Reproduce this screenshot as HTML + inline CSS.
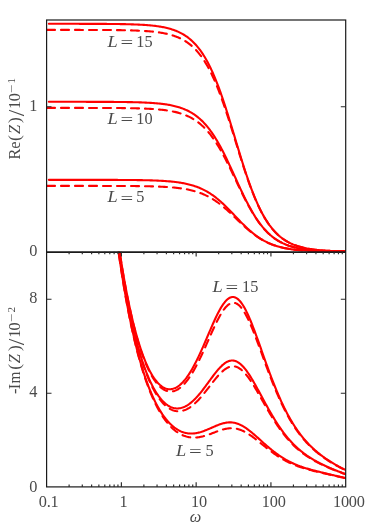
<!DOCTYPE html>
<html><head><meta charset="utf-8"><title>plot</title>
<style>
html,body{margin:0;padding:0;background:#fff;}
body{width:374px;height:529px;position:relative;overflow:hidden;font-family:"Liberation Serif",serif;}
svg{position:absolute;left:0;top:0;will-change:transform;}
.c path{fill:none;stroke:#ff0000;stroke-width:2.1;stroke-linejoin:round;stroke-linecap:round;}
.c path.d{stroke-dasharray:8 6;}
.f{fill:none;stroke:#1a1a1a;stroke-width:1.2;}
.f .k{stroke-width:1.15;stroke:#2a2a2a;}
.t text{font-family:"Liberation Serif",serif;font-size:16.3px;fill:#4a4a4a;}
.t .i{font-style:italic;}
.t .s{font-size:11px;}
.t .p{font-size:17.4px;}
.t .sl{font-size:23.5px;}
.t .n{letter-spacing:0.15px;}
.t .x{letter-spacing:-0.25px;}
</style></head><body>
<svg width="374" height="529" viewBox="0 0 374 529">
<defs>
<clipPath id="cu"><rect x="46.6" y="20.0" width="299.10" height="231.80"/></clipPath>
<clipPath id="cl"><rect x="46.6" y="251.8" width="299.10" height="235.10"/></clipPath>
</defs>
<g clip-path="url(#cu)" class="c">
<path d="M48.85 23.80 L49.84 23.80 L50.84 23.80 L51.83 23.81 L52.82 23.81 L53.81 23.81 L54.81 23.81 L55.80 23.81 L56.79 23.81 L57.79 23.81 L58.78 23.81 L59.77 23.81 L60.76 23.81 L61.76 23.81 L62.75 23.81 L63.74 23.81 L64.73 23.81 L65.73 23.81 L66.72 23.81 L67.71 23.81 L68.71 23.81 L69.70 23.81 L70.69 23.82 L71.68 23.82 L72.68 23.82 L73.67 23.82 L74.66 23.82 L75.66 23.82 L76.65 23.82 L77.64 23.82 L78.63 23.82 L79.63 23.83 L80.62 23.83 L81.61 23.83 L82.61 23.83 L83.60 23.83 L84.59 23.83 L85.58 23.84 L86.58 23.84 L87.57 23.84 L88.56 23.84 L89.56 23.85 L90.55 23.85 L91.54 23.85 L92.53 23.85 L93.53 23.86 L94.52 23.86 L95.51 23.87 L96.50 23.87 L97.50 23.87 L98.49 23.88 L99.48 23.88 L100.48 23.89 L101.47 23.89 L102.46 23.90 L103.45 23.90 L104.45 23.91 L105.44 23.92 L106.43 23.92 L107.43 23.93 L108.42 23.94 L109.41 23.95 L110.40 23.96 L111.40 23.97 L112.39 23.98 L113.38 23.99 L114.38 24.00 L115.37 24.01 L116.36 24.02 L117.35 24.03 L118.35 24.05 L119.34 24.06 L120.33 24.08 L121.33 24.10 L122.32 24.11 L123.31 24.13 L124.30 24.15 L125.30 24.17 L126.29 24.20 L127.28 24.22 L128.27 24.24 L129.27 24.27 L130.26 24.30 L131.25 24.33 L132.25 24.36 L133.24 24.39 L134.23 24.43 L135.22 24.47 L136.22 24.51 L137.21 24.55 L138.20 24.59 L139.20 24.64 L140.19 24.69 L141.18 24.74 L142.17 24.80 L143.17 24.86 L144.16 24.92 L145.15 24.99 L146.15 25.06 L147.14 25.13 L148.13 25.21 L149.12 25.30 L150.12 25.39 L151.11 25.48 L152.10 25.58 L153.09 25.68 L154.09 25.80 L155.08 25.91 L156.07 26.04 L157.07 26.17 L158.06 26.31 L159.05 26.46 L160.04 26.62 L161.04 26.78 L162.03 26.96 L163.02 27.15 L164.02 27.34 L165.01 27.55 L166.00 27.77 L166.99 28.01 L167.99 28.25 L168.98 28.51 L169.97 28.79 L170.97 29.08 L171.96 29.39 L172.95 29.71 L173.94 30.06 L174.94 30.42 L175.93 30.81 L176.92 31.21 L177.92 31.64 L178.91 32.09 L179.90 32.57 L180.89 33.07 L181.89 33.60 L182.88 34.16 L183.87 34.75 L184.86 35.37 L185.86 36.03 L186.85 36.72 L187.84 37.44 L188.84 38.21 L189.83 39.01 L190.82 39.86 L191.81 40.75 L192.81 41.68 L193.80 42.66 L194.79 43.69 L195.79 44.77 L196.78 45.90 L197.77 47.09 L198.76 48.33 L199.76 49.63 L200.75 50.99 L201.74 52.42 L202.74 53.90 L203.73 55.45 L204.72 57.07 L205.71 58.75 L206.71 60.51 L207.70 62.33 L208.69 64.23 L209.69 66.20 L210.68 68.24 L211.67 70.35 L212.66 72.54 L213.66 74.81 L214.65 77.14 L215.64 79.55 L216.63 82.03 L217.63 84.59 L218.62 87.21 L219.61 89.91 L220.61 92.67 L221.60 95.49 L222.59 98.37 L223.58 101.32 L224.58 104.32 L225.57 107.37 L226.56 110.47 L227.56 113.61 L228.55 116.79 L229.54 120.00 L230.53 123.25 L231.53 126.52 L232.52 129.80 L233.51 133.10 L234.51 136.41 L235.50 139.72 L236.49 143.03 L237.48 146.33 L238.48 149.61 L239.47 152.88 L240.46 156.12 L241.46 159.33 L242.45 162.50 L243.44 165.64 L244.43 168.73 L245.43 171.77 L246.42 174.76 L247.41 177.69 L248.40 180.57 L249.40 183.38 L250.39 186.13 L251.38 188.81 L252.38 191.43 L253.37 193.97 L254.36 196.44 L255.35 198.84 L256.35 201.16 L257.34 203.42 L258.33 205.59 L259.33 207.70 L260.32 209.73 L261.31 211.68 L262.30 213.57 L263.30 215.38 L264.29 217.12 L265.28 218.80 L266.28 220.40 L267.27 221.94 L268.26 223.42 L269.25 224.83 L270.25 226.18 L271.24 227.47 L272.23 228.71 L273.22 229.88 L274.22 231.01 L275.21 232.08 L276.20 233.10 L277.20 234.07 L278.19 235.00 L279.18 235.88 L280.17 236.72 L281.17 237.52 L282.16 238.28 L283.15 239.00 L284.15 239.68 L285.14 240.33 L286.13 240.95 L287.12 241.53 L288.12 242.09 L289.11 242.61 L290.10 243.11 L291.10 243.58 L292.09 244.03 L293.08 244.46 L294.07 244.86 L295.07 245.24 L296.06 245.60 L297.05 245.94 L298.05 246.26 L299.04 246.57 L300.03 246.86 L301.02 247.13 L302.02 247.39 L303.01 247.63 L304.00 247.86 L304.99 248.08 L305.99 248.29 L306.98 248.48 L307.97 248.67 L308.97 248.84 L309.96 249.01 L310.95 249.16 L311.94 249.31 L312.94 249.45 L313.93 249.58 L314.92 249.71 L315.92 249.82 L316.91 249.93 L317.90 250.04 L318.89 250.14 L319.89 250.23 L320.88 250.32 L321.87 250.40 L322.87 250.48 L323.86 250.55 L324.85 250.62 L325.84 250.69 L326.84 250.75 L327.83 250.81 L328.82 250.87 L329.82 250.92 L330.81 250.97 L331.80 251.02 L332.79 251.06 L333.79 251.10 L334.78 251.14 L335.77 251.18 L336.76 251.21 L337.76 251.25 L338.75 251.28 L339.74 251.31 L340.74 251.33 L341.73 251.36 L342.72 251.39 L343.71 251.41 L344.71 251.43 L345.70 251.45"/>
<path class="d" d="M47.00 29.90 L48.00 29.90 L49.00 29.90 L50.00 29.90 L51.00 29.90 L51.99 29.90 L52.99 29.91 L53.99 29.91 L54.99 29.91 L55.99 29.91 L56.99 29.91 L57.99 29.91 L58.99 29.91 L59.99 29.91 L60.99 29.91 L61.98 29.91 L62.98 29.91 L63.98 29.91 L64.98 29.91 L65.98 29.91 L66.98 29.91 L67.98 29.91 L68.98 29.91 L69.98 29.91 L70.98 29.91 L71.97 29.92 L72.97 29.92 L73.97 29.92 L74.97 29.92 L75.97 29.92 L76.97 29.92 L77.97 29.92 L78.97 29.92 L79.97 29.92 L80.97 29.93 L81.96 29.93 L82.96 29.93 L83.96 29.93 L84.96 29.93 L85.96 29.94 L86.96 29.94 L87.96 29.94 L88.96 29.94 L89.96 29.94 L90.96 29.95 L91.95 29.95 L92.95 29.95 L93.95 29.96 L94.95 29.96 L95.95 29.96 L96.95 29.97 L97.95 29.97 L98.95 29.98 L99.95 29.98 L100.95 29.99 L101.94 29.99 L102.94 30.00 L103.94 30.00 L104.94 30.01 L105.94 30.01 L106.94 30.02 L107.94 30.03 L108.94 30.04 L109.94 30.04 L110.94 30.05 L111.93 30.06 L112.93 30.07 L113.93 30.08 L114.93 30.09 L115.93 30.10 L116.93 30.12 L117.93 30.13 L118.93 30.14 L119.93 30.16 L120.93 30.17 L121.92 30.19 L122.92 30.21 L123.92 30.23 L124.92 30.25 L125.92 30.27 L126.92 30.29 L127.92 30.31 L128.92 30.34 L129.92 30.36 L130.92 30.39 L131.91 30.42 L132.91 30.45 L133.91 30.48 L134.91 30.52 L135.91 30.56 L136.91 30.60 L137.91 30.64 L138.91 30.68 L139.91 30.73 L140.91 30.78 L141.90 30.83 L142.90 30.89 L143.90 30.95 L144.90 31.01 L145.90 31.08 L146.90 31.15 L147.90 31.22 L148.90 31.30 L149.90 31.38 L150.90 31.47 L151.89 31.57 L152.89 31.66 L153.89 31.77 L154.89 31.88 L155.89 32.00 L156.89 32.12 L157.89 32.26 L158.89 32.40 L159.89 32.55 L160.89 32.70 L161.88 32.87 L162.88 33.05 L163.88 33.23 L164.88 33.43 L165.88 33.64 L166.88 33.86 L167.88 34.09 L168.88 34.34 L169.88 34.60 L170.88 34.88 L171.87 35.17 L172.87 35.48 L173.87 35.81 L174.87 36.15 L175.87 36.52 L176.87 36.90 L177.87 37.31 L178.87 37.74 L179.87 38.20 L180.87 38.68 L181.86 39.18 L182.86 39.72 L183.86 40.28 L184.86 40.87 L185.86 41.50 L186.86 42.16 L187.86 42.85 L188.86 43.59 L189.86 44.36 L190.86 45.17 L191.85 46.02 L192.85 46.91 L193.85 47.85 L194.85 48.84 L195.85 49.88 L196.85 50.97 L197.85 52.11 L198.85 53.31 L199.85 54.56 L200.85 55.87 L201.84 57.24 L202.84 58.67 L203.84 60.17 L204.84 61.73 L205.84 63.36 L206.84 65.05 L207.84 66.81 L208.84 68.65 L209.84 70.55 L210.84 72.53 L211.83 74.58 L212.83 76.70 L213.83 78.90 L214.83 81.16 L215.83 83.50 L216.83 85.92 L217.83 88.40 L218.83 90.95 L219.83 93.57 L220.83 96.26 L221.82 99.01 L222.82 101.82 L223.82 104.69 L224.82 107.61 L225.82 110.59 L226.82 113.61 L227.82 116.68 L228.82 119.79 L229.82 122.93 L230.82 126.10 L231.81 129.30 L232.81 132.52 L233.81 135.75 L234.81 138.99 L235.81 142.23 L236.81 145.47 L237.81 148.70 L238.81 151.92 L239.81 155.12 L240.81 158.30 L241.80 161.44 L242.80 164.56 L243.80 167.63 L244.80 170.66 L245.80 173.65 L246.80 176.58 L247.80 179.46 L248.80 182.28 L249.80 185.04 L250.80 187.73 L251.79 190.36 L252.79 192.93 L253.79 195.42 L254.79 197.84 L255.79 200.19 L256.79 202.47 L257.79 204.68 L258.79 206.81 L259.79 208.87 L260.79 210.86 L261.78 212.77 L262.78 214.62 L263.78 216.39 L264.78 218.10 L265.78 219.73 L266.78 221.30 L267.78 222.81 L268.78 224.25 L269.78 225.63 L270.78 226.95 L271.77 228.21 L272.77 229.41 L273.77 230.56 L274.77 231.66 L275.77 232.71 L276.77 233.70 L277.77 234.65 L278.77 235.55 L279.77 236.41 L280.77 237.23 L281.76 238.00 L282.76 238.74 L283.76 239.44 L284.76 240.10 L285.76 240.74 L286.76 241.33 L287.76 241.90 L288.76 242.44 L289.76 242.95 L290.76 243.43 L291.75 243.89 L292.75 244.33 L293.75 244.74 L294.75 245.13 L295.75 245.49 L296.75 245.84 L297.75 246.17 L298.75 246.48 L299.75 246.78 L300.75 247.06 L301.74 247.32 L302.74 247.57 L303.74 247.81 L304.74 248.03 L305.74 248.24 L306.74 248.44 L307.74 248.63 L308.74 248.80 L309.74 248.97 L310.74 249.13 L311.73 249.28 L312.73 249.42 L313.73 249.56 L314.73 249.68 L315.73 249.80 L316.73 249.91 L317.73 250.02 L318.73 250.12 L319.73 250.22 L320.73 250.30 L321.72 250.39 L322.72 250.47 L323.72 250.54 L324.72 250.61 L325.72 250.68 L326.72 250.74 L327.72 250.80 L328.72 250.86 L329.72 250.91 L330.72 250.96 L331.71 251.01 L332.71 251.06 L333.71 251.10 L334.71 251.14 L335.71 251.18 L336.71 251.21 L337.71 251.24 L338.71 251.28 L339.71 251.31 L340.71 251.33 L341.70 251.36 L342.70 251.38 L343.70 251.41 L344.70 251.43 L345.70 251.45"/>
<path d="M48.85 101.80 L49.84 101.80 L50.84 101.80 L51.83 101.80 L52.82 101.80 L53.81 101.80 L54.81 101.80 L55.80 101.80 L56.79 101.80 L57.79 101.80 L58.78 101.81 L59.77 101.81 L60.76 101.81 L61.76 101.81 L62.75 101.81 L63.74 101.81 L64.73 101.81 L65.73 101.81 L66.72 101.81 L67.71 101.81 L68.71 101.81 L69.70 101.81 L70.69 101.81 L71.68 101.81 L72.68 101.81 L73.67 101.81 L74.66 101.81 L75.66 101.81 L76.65 101.81 L77.64 101.82 L78.63 101.82 L79.63 101.82 L80.62 101.82 L81.61 101.82 L82.61 101.82 L83.60 101.82 L84.59 101.82 L85.58 101.82 L86.58 101.83 L87.57 101.83 L88.56 101.83 L89.56 101.83 L90.55 101.83 L91.54 101.83 L92.53 101.84 L93.53 101.84 L94.52 101.84 L95.51 101.84 L96.50 101.85 L97.50 101.85 L98.49 101.85 L99.48 101.85 L100.48 101.86 L101.47 101.86 L102.46 101.86 L103.45 101.87 L104.45 101.87 L105.44 101.88 L106.43 101.88 L107.43 101.89 L108.42 101.89 L109.41 101.90 L110.40 101.90 L111.40 101.91 L112.39 101.92 L113.38 101.92 L114.38 101.93 L115.37 101.94 L116.36 101.95 L117.35 101.95 L118.35 101.96 L119.34 101.97 L120.33 101.98 L121.33 101.99 L122.32 102.01 L123.31 102.02 L124.30 102.03 L125.30 102.05 L126.29 102.06 L127.28 102.08 L128.27 102.09 L129.27 102.11 L130.26 102.13 L131.25 102.15 L132.25 102.17 L133.24 102.19 L134.23 102.21 L135.22 102.24 L136.22 102.26 L137.21 102.29 L138.20 102.32 L139.20 102.35 L140.19 102.39 L141.18 102.42 L142.17 102.46 L143.17 102.50 L144.16 102.54 L145.15 102.58 L146.15 102.63 L147.14 102.68 L148.13 102.73 L149.12 102.78 L150.12 102.84 L151.11 102.90 L152.10 102.97 L153.09 103.04 L154.09 103.11 L155.08 103.19 L156.07 103.27 L157.07 103.36 L158.06 103.45 L159.05 103.55 L160.04 103.65 L161.04 103.76 L162.03 103.88 L163.02 104.00 L164.02 104.13 L165.01 104.27 L166.00 104.41 L166.99 104.57 L167.99 104.73 L168.98 104.90 L169.97 105.08 L170.97 105.27 L171.96 105.48 L172.95 105.69 L173.94 105.92 L174.94 106.16 L175.93 106.41 L176.92 106.68 L177.92 106.96 L178.91 107.25 L179.90 107.57 L180.89 107.90 L181.89 108.25 L182.88 108.62 L183.87 109.00 L184.86 109.41 L185.86 109.84 L186.85 110.30 L187.84 110.78 L188.84 111.28 L189.83 111.81 L190.82 112.36 L191.81 112.95 L192.81 113.56 L193.80 114.21 L194.79 114.89 L195.79 115.60 L196.78 116.34 L197.77 117.12 L198.76 117.94 L199.76 118.80 L200.75 119.69 L201.74 120.63 L202.74 121.60 L203.73 122.62 L204.72 123.69 L205.71 124.80 L206.71 125.95 L207.70 127.15 L208.69 128.40 L209.69 129.69 L210.68 131.04 L211.67 132.43 L212.66 133.87 L213.66 135.36 L214.65 136.89 L215.64 138.48 L216.63 140.11 L217.63 141.79 L218.62 143.52 L219.61 145.29 L220.61 147.11 L221.60 148.96 L222.59 150.86 L223.58 152.80 L224.58 154.77 L225.57 156.78 L226.56 158.82 L227.56 160.88 L228.55 162.98 L229.54 165.09 L230.53 167.23 L231.53 169.38 L232.52 171.54 L233.51 173.71 L234.51 175.89 L235.50 178.06 L236.49 180.24 L237.48 182.41 L238.48 184.57 L239.47 186.72 L240.46 188.85 L241.46 190.96 L242.45 193.05 L243.44 195.11 L244.43 197.15 L245.43 199.15 L246.42 201.12 L247.41 203.05 L248.40 204.94 L249.40 206.79 L250.39 208.60 L251.38 210.36 L252.38 212.08 L253.37 213.75 L254.36 215.38 L255.35 216.96 L256.35 218.49 L257.34 219.97 L258.33 221.40 L259.33 222.78 L260.32 224.12 L261.31 225.41 L262.30 226.65 L263.30 227.84 L264.29 228.99 L265.28 230.09 L266.28 231.14 L267.27 232.16 L268.26 233.13 L269.25 234.06 L270.25 234.94 L271.24 235.79 L272.23 236.61 L273.22 237.38 L274.22 238.12 L275.21 238.83 L276.20 239.50 L277.20 240.14 L278.19 240.75 L279.18 241.33 L280.17 241.88 L281.17 242.40 L282.16 242.90 L283.15 243.38 L284.15 243.83 L285.14 244.25 L286.13 244.66 L287.12 245.04 L288.12 245.41 L289.11 245.76 L290.10 246.08 L291.10 246.39 L292.09 246.69 L293.08 246.97 L294.07 247.23 L295.07 247.48 L296.06 247.72 L297.05 247.94 L298.05 248.16 L299.04 248.36 L300.03 248.55 L301.02 248.73 L302.02 248.90 L303.01 249.06 L304.00 249.21 L304.99 249.35 L305.99 249.49 L306.98 249.62 L307.97 249.74 L308.97 249.85 L309.96 249.96 L310.95 250.07 L311.94 250.16 L312.94 250.25 L313.93 250.34 L314.92 250.42 L315.92 250.50 L316.91 250.57 L317.90 250.64 L318.89 250.71 L319.89 250.77 L320.88 250.82 L321.87 250.88 L322.87 250.93 L323.86 250.98 L324.85 251.03 L325.84 251.07 L326.84 251.11 L327.83 251.15 L328.82 251.19 L329.82 251.22 L330.81 251.25 L331.80 251.28 L332.79 251.31 L333.79 251.34 L334.78 251.37 L335.77 251.39 L336.76 251.41 L337.76 251.44 L338.75 251.46 L339.74 251.48 L340.74 251.49 L341.73 251.51 L342.72 251.53 L343.71 251.54 L344.71 251.56 L345.70 251.57"/>
<path class="d" d="M47.00 107.90 L48.00 107.90 L49.00 107.90 L50.00 107.90 L51.00 107.90 L51.99 107.90 L52.99 107.90 L53.99 107.90 L54.99 107.90 L55.99 107.90 L56.99 107.90 L57.99 107.90 L58.99 107.90 L59.99 107.90 L60.99 107.91 L61.98 107.91 L62.98 107.91 L63.98 107.91 L64.98 107.91 L65.98 107.91 L66.98 107.91 L67.98 107.91 L68.98 107.91 L69.98 107.91 L70.98 107.91 L71.97 107.91 L72.97 107.91 L73.97 107.91 L74.97 107.91 L75.97 107.91 L76.97 107.91 L77.97 107.91 L78.97 107.92 L79.97 107.92 L80.97 107.92 L81.96 107.92 L82.96 107.92 L83.96 107.92 L84.96 107.92 L85.96 107.92 L86.96 107.92 L87.96 107.93 L88.96 107.93 L89.96 107.93 L90.96 107.93 L91.95 107.93 L92.95 107.93 L93.95 107.94 L94.95 107.94 L95.95 107.94 L96.95 107.94 L97.95 107.95 L98.95 107.95 L99.95 107.95 L100.95 107.95 L101.94 107.96 L102.94 107.96 L103.94 107.96 L104.94 107.97 L105.94 107.97 L106.94 107.98 L107.94 107.98 L108.94 107.99 L109.94 107.99 L110.94 108.00 L111.93 108.00 L112.93 108.01 L113.93 108.02 L114.93 108.02 L115.93 108.03 L116.93 108.04 L117.93 108.05 L118.93 108.06 L119.93 108.07 L120.93 108.07 L121.92 108.09 L122.92 108.10 L123.92 108.11 L124.92 108.12 L125.92 108.13 L126.92 108.15 L127.92 108.16 L128.92 108.18 L129.92 108.20 L130.92 108.21 L131.91 108.23 L132.91 108.25 L133.91 108.27 L134.91 108.30 L135.91 108.32 L136.91 108.34 L137.91 108.37 L138.91 108.40 L139.91 108.43 L140.91 108.46 L141.90 108.50 L142.90 108.53 L143.90 108.57 L144.90 108.61 L145.90 108.65 L146.90 108.70 L147.90 108.74 L148.90 108.79 L149.90 108.85 L150.90 108.90 L151.89 108.96 L152.89 109.03 L153.89 109.10 L154.89 109.17 L155.89 109.24 L156.89 109.32 L157.89 109.41 L158.89 109.50 L159.89 109.59 L160.89 109.69 L161.88 109.80 L162.88 109.91 L163.88 110.03 L164.88 110.16 L165.88 110.29 L166.88 110.43 L167.88 110.58 L168.88 110.74 L169.88 110.91 L170.88 111.08 L171.87 111.27 L172.87 111.47 L173.87 111.68 L174.87 111.90 L175.87 112.13 L176.87 112.38 L177.87 112.64 L178.87 112.92 L179.87 113.21 L180.87 113.51 L181.86 113.84 L182.86 114.18 L183.86 114.54 L184.86 114.92 L185.86 115.32 L186.86 115.74 L187.86 116.19 L188.86 116.66 L189.86 117.15 L190.86 117.67 L191.85 118.21 L192.85 118.79 L193.85 119.39 L194.85 120.02 L195.85 120.69 L196.85 121.39 L197.85 122.12 L198.85 122.88 L199.85 123.69 L200.85 124.53 L201.84 125.41 L202.84 126.33 L203.84 127.29 L204.84 128.29 L205.84 129.33 L206.84 130.42 L207.84 131.55 L208.84 132.73 L209.84 133.95 L210.84 135.22 L211.83 136.54 L212.83 137.91 L213.83 139.32 L214.83 140.78 L215.83 142.28 L216.83 143.84 L217.83 145.43 L218.83 147.08 L219.83 148.77 L220.83 150.50 L221.82 152.27 L222.82 154.09 L223.82 155.94 L224.82 157.83 L225.82 159.75 L226.82 161.70 L227.82 163.69 L228.82 165.69 L229.82 167.73 L230.82 169.78 L231.81 171.85 L232.81 173.93 L233.81 176.02 L234.81 178.12 L235.81 180.23 L236.81 182.33 L237.81 184.43 L238.81 186.52 L239.81 188.59 L240.81 190.66 L241.80 192.70 L242.80 194.73 L243.80 196.73 L244.80 198.70 L245.80 200.64 L246.80 202.55 L247.80 204.43 L248.80 206.27 L249.80 208.07 L250.80 209.83 L251.79 211.54 L252.79 213.22 L253.79 214.84 L254.79 216.43 L255.79 217.96 L256.79 219.45 L257.79 220.89 L258.79 222.29 L259.79 223.64 L260.79 224.94 L261.78 226.19 L262.78 227.40 L263.78 228.56 L264.78 229.68 L265.78 230.75 L266.78 231.78 L267.78 232.76 L268.78 233.71 L269.78 234.61 L270.78 235.48 L271.77 236.30 L272.77 237.09 L273.77 237.85 L274.77 238.57 L275.77 239.25 L276.77 239.91 L277.77 240.53 L278.77 241.12 L279.77 241.69 L280.77 242.22 L281.76 242.73 L282.76 243.21 L283.76 243.67 L284.76 244.11 L285.76 244.53 L286.76 244.92 L287.76 245.29 L288.76 245.65 L289.76 245.98 L290.76 246.30 L291.75 246.60 L292.75 246.88 L293.75 247.15 L294.75 247.41 L295.75 247.65 L296.75 247.88 L297.75 248.10 L298.75 248.30 L299.75 248.50 L300.75 248.68 L301.74 248.85 L302.74 249.02 L303.74 249.17 L304.74 249.32 L305.74 249.46 L306.74 249.59 L307.74 249.71 L308.74 249.83 L309.74 249.94 L310.74 250.04 L311.73 250.14 L312.73 250.24 L313.73 250.32 L314.73 250.41 L315.73 250.49 L316.73 250.56 L317.73 250.63 L318.73 250.70 L319.73 250.76 L320.73 250.82 L321.72 250.87 L322.72 250.92 L323.72 250.97 L324.72 251.02 L325.72 251.06 L326.72 251.11 L327.72 251.15 L328.72 251.18 L329.72 251.22 L330.72 251.25 L331.71 251.28 L332.71 251.31 L333.71 251.34 L334.71 251.36 L335.71 251.39 L336.71 251.41 L337.71 251.43 L338.71 251.45 L339.71 251.47 L340.71 251.49 L341.70 251.51 L342.70 251.53 L343.70 251.54 L344.70 251.56 L345.70 251.57"/>
<path d="M48.85 179.85 L49.84 179.85 L50.84 179.85 L51.83 179.85 L52.82 179.85 L53.81 179.85 L54.81 179.85 L55.80 179.85 L56.79 179.85 L57.79 179.85 L58.78 179.85 L59.77 179.85 L60.76 179.85 L61.76 179.85 L62.75 179.85 L63.74 179.85 L64.73 179.85 L65.73 179.85 L66.72 179.85 L67.71 179.85 L68.71 179.85 L69.70 179.85 L70.69 179.85 L71.68 179.86 L72.68 179.86 L73.67 179.86 L74.66 179.86 L75.66 179.86 L76.65 179.86 L77.64 179.86 L78.63 179.86 L79.63 179.86 L80.62 179.86 L81.61 179.86 L82.61 179.86 L83.60 179.86 L84.59 179.86 L85.58 179.86 L86.58 179.86 L87.57 179.86 L88.56 179.86 L89.56 179.86 L90.55 179.87 L91.54 179.87 L92.53 179.87 L93.53 179.87 L94.52 179.87 L95.51 179.87 L96.50 179.87 L97.50 179.87 L98.49 179.87 L99.48 179.88 L100.48 179.88 L101.47 179.88 L102.46 179.88 L103.45 179.88 L104.45 179.88 L105.44 179.89 L106.43 179.89 L107.43 179.89 L108.42 179.89 L109.41 179.90 L110.40 179.90 L111.40 179.90 L112.39 179.91 L113.38 179.91 L114.38 179.91 L115.37 179.92 L116.36 179.92 L117.35 179.92 L118.35 179.93 L119.34 179.93 L120.33 179.94 L121.33 179.94 L122.32 179.95 L123.31 179.95 L124.30 179.96 L125.30 179.97 L126.29 179.97 L127.28 179.98 L128.27 179.99 L129.27 180.00 L130.26 180.01 L131.25 180.02 L132.25 180.03 L133.24 180.04 L134.23 180.05 L135.22 180.06 L136.22 180.07 L137.21 180.09 L138.20 180.10 L139.20 180.11 L140.19 180.13 L141.18 180.15 L142.17 180.17 L143.17 180.18 L144.16 180.20 L145.15 180.22 L146.15 180.25 L147.14 180.27 L148.13 180.30 L149.12 180.32 L150.12 180.35 L151.11 180.38 L152.10 180.41 L153.09 180.44 L154.09 180.48 L155.08 180.52 L156.07 180.56 L157.07 180.60 L158.06 180.64 L159.05 180.69 L160.04 180.74 L161.04 180.79 L162.03 180.85 L163.02 180.91 L164.02 180.97 L165.01 181.03 L166.00 181.10 L166.99 181.18 L167.99 181.26 L168.98 181.34 L169.97 181.42 L170.97 181.52 L171.96 181.61 L172.95 181.72 L173.94 181.82 L174.94 181.94 L175.93 182.06 L176.92 182.19 L177.92 182.32 L178.91 182.47 L179.90 182.62 L180.89 182.78 L181.89 182.94 L182.88 183.12 L183.87 183.31 L184.86 183.50 L185.86 183.71 L186.85 183.93 L187.84 184.16 L188.84 184.40 L189.83 184.65 L190.82 184.92 L191.81 185.20 L192.81 185.49 L193.80 185.80 L194.79 186.13 L195.79 186.47 L196.78 186.82 L197.77 187.20 L198.76 187.59 L199.76 188.00 L200.75 188.43 L201.74 188.88 L202.74 189.35 L203.73 189.84 L204.72 190.35 L205.71 190.88 L206.71 191.43 L207.70 192.01 L208.69 192.61 L209.69 193.23 L210.68 193.87 L211.67 194.54 L212.66 195.23 L213.66 195.95 L214.65 196.68 L215.64 197.44 L216.63 198.23 L217.63 199.03 L218.62 199.86 L219.61 200.71 L220.61 201.58 L221.60 202.47 L222.59 203.38 L223.58 204.31 L224.58 205.26 L225.57 206.22 L226.56 207.20 L227.56 208.19 L228.55 209.19 L229.54 210.21 L230.53 211.23 L231.53 212.26 L232.52 213.30 L233.51 214.34 L234.51 215.39 L235.50 216.43 L236.49 217.48 L237.48 218.52 L238.48 219.55 L239.47 220.58 L240.46 221.61 L241.46 222.62 L242.45 223.62 L243.44 224.61 L244.43 225.58 L245.43 226.54 L246.42 227.49 L247.41 228.41 L248.40 229.32 L249.40 230.21 L250.39 231.08 L251.38 231.92 L252.38 232.75 L253.37 233.55 L254.36 234.33 L255.35 235.09 L256.35 235.82 L257.34 236.53 L258.33 237.22 L259.33 237.88 L260.32 238.52 L261.31 239.14 L262.30 239.73 L263.30 240.31 L264.29 240.86 L265.28 241.38 L266.28 241.89 L267.27 242.38 L268.26 242.84 L269.25 243.29 L270.25 243.71 L271.24 244.12 L272.23 244.51 L273.22 244.88 L274.22 245.24 L275.21 245.58 L276.20 245.90 L277.20 246.21 L278.19 246.50 L279.18 246.78 L280.17 247.04 L281.17 247.29 L282.16 247.53 L283.15 247.76 L284.15 247.98 L285.14 248.18 L286.13 248.38 L287.12 248.56 L288.12 248.73 L289.11 248.90 L290.10 249.06 L291.10 249.21 L292.09 249.35 L293.08 249.48 L294.07 249.61 L295.07 249.73 L296.06 249.84 L297.05 249.95 L298.05 250.05 L299.04 250.15 L300.03 250.24 L301.02 250.33 L302.02 250.41 L303.01 250.48 L304.00 250.56 L304.99 250.63 L305.99 250.69 L306.98 250.75 L307.97 250.81 L308.97 250.87 L309.96 250.92 L310.95 250.97 L311.94 251.01 L312.94 251.06 L313.93 251.10 L314.92 251.14 L315.92 251.18 L316.91 251.21 L317.90 251.24 L318.89 251.28 L319.89 251.30 L320.88 251.33 L321.87 251.36 L322.87 251.38 L323.86 251.41 L324.85 251.43 L325.84 251.45 L326.84 251.47 L327.83 251.49 L328.82 251.51 L329.82 251.52 L330.81 251.54 L331.80 251.55 L332.79 251.57 L333.79 251.58 L334.78 251.59 L335.77 251.60 L336.76 251.61 L337.76 251.63 L338.75 251.63 L339.74 251.64 L340.74 251.65 L341.73 251.66 L342.72 251.67 L343.71 251.68 L344.71 251.68 L345.70 251.69"/>
<path class="d" d="M47.00 185.90 L48.00 185.90 L49.00 185.90 L50.00 185.90 L51.00 185.90 L51.99 185.90 L52.99 185.90 L53.99 185.90 L54.99 185.90 L55.99 185.90 L56.99 185.90 L57.99 185.90 L58.99 185.90 L59.99 185.90 L60.99 185.90 L61.98 185.90 L62.98 185.90 L63.98 185.90 L64.98 185.90 L65.98 185.90 L66.98 185.90 L67.98 185.90 L68.98 185.90 L69.98 185.90 L70.98 185.90 L71.97 185.90 L72.97 185.90 L73.97 185.90 L74.97 185.91 L75.97 185.91 L76.97 185.91 L77.97 185.91 L78.97 185.91 L79.97 185.91 L80.97 185.91 L81.96 185.91 L82.96 185.91 L83.96 185.91 L84.96 185.91 L85.96 185.91 L86.96 185.91 L87.96 185.91 L88.96 185.91 L89.96 185.91 L90.96 185.91 L91.95 185.91 L92.95 185.91 L93.95 185.92 L94.95 185.92 L95.95 185.92 L96.95 185.92 L97.95 185.92 L98.95 185.92 L99.95 185.92 L100.95 185.92 L101.94 185.93 L102.94 185.93 L103.94 185.93 L104.94 185.93 L105.94 185.93 L106.94 185.93 L107.94 185.94 L108.94 185.94 L109.94 185.94 L110.94 185.94 L111.93 185.95 L112.93 185.95 L113.93 185.95 L114.93 185.95 L115.93 185.96 L116.93 185.96 L117.93 185.96 L118.93 185.97 L119.93 185.97 L120.93 185.98 L121.92 185.98 L122.92 185.99 L123.92 185.99 L124.92 186.00 L125.92 186.00 L126.92 186.01 L127.92 186.02 L128.92 186.02 L129.92 186.03 L130.92 186.04 L131.91 186.05 L132.91 186.05 L133.91 186.06 L134.91 186.07 L135.91 186.08 L136.91 186.09 L137.91 186.11 L138.91 186.12 L139.91 186.13 L140.91 186.15 L141.90 186.16 L142.90 186.18 L143.90 186.19 L144.90 186.21 L145.90 186.23 L146.90 186.25 L147.90 186.27 L148.90 186.29 L149.90 186.31 L150.90 186.34 L151.89 186.37 L152.89 186.39 L153.89 186.42 L154.89 186.45 L155.89 186.49 L156.89 186.52 L157.89 186.56 L158.89 186.60 L159.89 186.64 L160.89 186.68 L161.88 186.73 L162.88 186.78 L163.88 186.83 L164.88 186.89 L165.88 186.95 L166.88 187.01 L167.88 187.07 L168.88 187.14 L169.88 187.22 L170.88 187.29 L171.87 187.38 L172.87 187.46 L173.87 187.55 L174.87 187.65 L175.87 187.75 L176.87 187.86 L177.87 187.98 L178.87 188.10 L179.87 188.22 L180.87 188.36 L181.86 188.50 L182.86 188.65 L183.86 188.81 L184.86 188.98 L185.86 189.15 L186.86 189.34 L187.86 189.53 L188.86 189.74 L189.86 189.96 L190.86 190.18 L191.85 190.42 L192.85 190.68 L193.85 190.94 L194.85 191.22 L195.85 191.51 L196.85 191.82 L197.85 192.14 L198.85 192.48 L199.85 192.84 L200.85 193.21 L201.84 193.60 L202.84 194.00 L203.84 194.43 L204.84 194.87 L205.84 195.33 L206.84 195.82 L207.84 196.32 L208.84 196.84 L209.84 197.39 L210.84 197.95 L211.83 198.54 L212.83 199.14 L213.83 199.77 L214.83 200.43 L215.83 201.10 L216.83 201.79 L217.83 202.51 L218.83 203.24 L219.83 204.00 L220.83 204.78 L221.82 205.58 L222.82 206.39 L223.82 207.23 L224.82 208.08 L225.82 208.95 L226.82 209.83 L227.82 210.73 L228.82 211.64 L229.82 212.56 L230.82 213.49 L231.81 214.43 L232.81 215.38 L233.81 216.34 L234.81 217.30 L235.81 218.26 L236.81 219.22 L237.81 220.18 L238.81 221.14 L239.81 222.10 L240.81 223.05 L241.80 223.99 L242.80 224.93 L243.80 225.85 L244.80 226.77 L245.80 227.67 L246.80 228.56 L247.80 229.43 L248.80 230.28 L249.80 231.12 L250.80 231.94 L251.79 232.74 L252.79 233.52 L253.79 234.29 L254.79 235.03 L255.79 235.75 L256.79 236.45 L257.79 237.12 L258.79 237.78 L259.79 238.41 L260.79 239.03 L261.78 239.62 L262.78 240.19 L263.78 240.74 L264.78 241.26 L265.78 241.77 L266.78 242.26 L267.78 242.73 L268.78 243.17 L269.78 243.60 L270.78 244.01 L271.77 244.41 L272.77 244.78 L273.77 245.14 L274.77 245.48 L275.77 245.81 L276.77 246.12 L277.77 246.41 L278.77 246.70 L279.77 246.96 L280.77 247.22 L281.76 247.46 L282.76 247.69 L283.76 247.91 L284.76 248.12 L285.76 248.32 L286.76 248.51 L287.76 248.69 L288.76 248.85 L289.76 249.01 L290.76 249.17 L291.75 249.31 L292.75 249.45 L293.75 249.58 L294.75 249.70 L295.75 249.81 L296.75 249.92 L297.75 250.03 L298.75 250.12 L299.75 250.22 L300.75 250.31 L301.74 250.39 L302.74 250.47 L303.74 250.54 L304.74 250.61 L305.74 250.68 L306.74 250.74 L307.74 250.80 L308.74 250.86 L309.74 250.91 L310.74 250.96 L311.73 251.01 L312.73 251.05 L313.73 251.09 L314.73 251.13 L315.73 251.17 L316.73 251.21 L317.73 251.24 L318.73 251.27 L319.73 251.30 L320.73 251.33 L321.72 251.35 L322.72 251.38 L323.72 251.40 L324.72 251.43 L325.72 251.45 L326.72 251.47 L327.72 251.49 L328.72 251.50 L329.72 251.52 L330.72 251.54 L331.71 251.55 L332.71 251.57 L333.71 251.58 L334.71 251.59 L335.71 251.60 L336.71 251.61 L337.71 251.62 L338.71 251.63 L339.71 251.64 L340.71 251.65 L341.70 251.66 L342.70 251.67 L343.70 251.68 L344.70 251.68 L345.70 251.69"/>
</g>
<g clip-path="url(#cl)" class="c">
<path d="M116.02 226.34 L116.82 232.20 L117.62 237.91 L118.42 243.47 L119.22 248.89 L120.02 254.15 L120.82 259.28 L121.63 264.27 L122.43 269.12 L123.23 273.84 L124.03 278.43 L124.83 282.90 L125.63 287.24 L126.43 291.46 L127.23 295.56 L128.03 299.55 L128.83 303.42 L129.63 307.18 L130.43 310.83 L131.23 314.37 L132.03 317.81 L132.83 321.15 L133.63 324.39 L134.43 327.53 L135.23 330.57 L136.03 333.52 L136.83 336.37 L137.63 339.13 L138.43 341.81 L139.23 344.39 L140.03 346.89 L140.83 349.30 L141.63 351.64 L142.43 353.89 L143.23 356.05 L144.03 358.14 L144.83 360.16 L145.63 362.09 L146.43 363.95 L147.23 365.74 L148.03 367.45 L148.83 369.09 L149.63 370.66 L150.43 372.16 L151.23 373.60 L152.04 374.96 L152.84 376.26 L153.64 377.49 L154.44 378.65 L155.24 379.75 L156.04 380.79 L156.84 381.76 L157.64 382.67 L158.44 383.52 L159.24 384.31 L160.04 385.04 L160.84 385.70 L161.64 386.31 L162.44 386.86 L163.24 387.35 L164.04 387.78 L164.84 388.16 L165.64 388.48 L166.44 388.74 L167.24 388.94 L168.04 389.09 L168.84 389.19 L169.64 389.22 L170.44 389.21 L171.24 389.14 L172.04 389.01 L172.84 388.83 L173.64 388.60 L174.44 388.31 L175.24 387.97 L176.04 387.58 L176.84 387.13 L177.64 386.64 L178.44 386.09 L179.24 385.49 L180.04 384.83 L180.84 384.13 L181.65 383.38 L182.45 382.57 L183.25 381.72 L184.05 380.81 L184.85 379.86 L185.65 378.86 L186.45 377.81 L187.25 376.71 L188.05 375.57 L188.85 374.38 L189.65 373.15 L190.45 371.87 L191.25 370.54 L192.05 369.18 L192.85 367.77 L193.65 366.32 L194.45 364.84 L195.25 363.31 L196.05 361.75 L196.85 360.15 L197.65 358.52 L198.45 356.85 L199.25 355.16 L200.05 353.43 L200.85 351.68 L201.65 349.91 L202.45 348.11 L203.25 346.30 L204.05 344.47 L204.85 342.62 L205.65 340.76 L206.45 338.89 L207.25 337.02 L208.05 335.14 L208.85 333.27 L209.65 331.40 L210.45 329.54 L211.26 327.69 L212.06 325.85 L212.86 324.04 L213.66 322.25 L214.46 320.49 L215.26 318.76 L216.06 317.06 L216.86 315.41 L217.66 313.80 L218.46 312.24 L219.26 310.73 L220.06 309.28 L220.86 307.89 L221.66 306.57 L222.46 305.32 L223.26 304.14 L224.06 303.05 L224.86 302.03 L225.66 301.10 L226.46 300.25 L227.26 299.50 L228.06 298.84 L228.86 298.28 L229.66 297.82 L230.46 297.45 L231.26 297.19 L232.06 297.04 L232.86 296.99 L233.66 297.04 L234.46 297.20 L235.26 297.47 L236.06 297.85 L236.86 298.32 L237.66 298.91 L238.46 299.59 L239.26 300.38 L240.06 301.27 L240.86 302.25 L241.67 303.33 L242.47 304.50 L243.27 305.76 L244.07 307.10 L244.87 308.53 L245.67 310.04 L246.47 311.62 L247.27 313.27 L248.07 315.00 L248.87 316.78 L249.67 318.63 L250.47 320.53 L251.27 322.48 L252.07 324.48 L252.87 326.52 L253.67 328.60 L254.47 330.72 L255.27 332.87 L256.07 335.04 L256.87 337.24 L257.67 339.46 L258.47 341.70 L259.27 343.94 L260.07 346.20 L260.87 348.47 L261.67 350.73 L262.47 353.00 L263.27 355.27 L264.07 357.53 L264.87 359.78 L265.67 362.02 L266.47 364.25 L267.27 366.47 L268.07 368.67 L268.87 370.85 L269.67 373.01 L270.47 375.16 L271.28 377.28 L272.08 379.37 L272.88 381.44 L273.68 383.49 L274.48 385.50 L275.28 387.49 L276.08 389.45 L276.88 391.38 L277.68 393.28 L278.48 395.16 L279.28 397.00 L280.08 398.80 L280.88 400.58 L281.68 402.33 L282.48 404.04 L283.28 405.72 L284.08 407.38 L284.88 408.99 L285.68 410.58 L286.48 412.14 L287.28 413.66 L288.08 415.15 L288.88 416.62 L289.68 418.05 L290.48 419.45 L291.28 420.82 L292.08 422.16 L292.88 423.47 L293.68 424.76 L294.48 426.01 L295.28 427.24 L296.08 428.44 L296.88 429.61 L297.68 430.76 L298.48 431.88 L299.28 432.98 L300.08 434.05 L300.89 435.10 L301.69 436.12 L302.49 437.12 L303.29 438.10 L304.09 439.06 L304.89 439.99 L305.69 440.90 L306.49 441.80 L307.29 442.67 L308.09 443.53 L308.89 444.36 L309.69 445.18 L310.49 445.98 L311.29 446.77 L312.09 447.54 L312.89 448.29 L313.69 449.03 L314.49 449.75 L315.29 450.46 L316.09 451.15 L316.89 451.83 L317.69 452.50 L318.49 453.16 L319.29 453.80 L320.09 454.43 L320.89 455.05 L321.69 455.66 L322.49 456.26 L323.29 456.85 L324.09 457.43 L324.89 458.00 L325.69 458.56 L326.49 459.11 L327.29 459.65 L328.09 460.18 L328.89 460.71 L329.69 461.22 L330.49 461.73 L331.30 462.23 L332.10 462.72 L332.90 463.21 L333.70 463.68 L334.50 464.15 L335.30 464.62 L336.10 465.07 L336.90 465.52 L337.70 465.96 L338.50 466.39 L339.30 466.82 L340.10 467.24 L340.90 467.65 L341.70 468.06 L342.50 468.46 L343.30 468.85 L344.10 469.23 L344.90 469.61 L345.70 469.99"/>
<path class="d" d="M116.02 226.79 L116.82 232.66 L117.62 238.38 L118.42 243.96 L119.22 249.38 L120.02 254.66 L120.82 259.80 L121.63 264.80 L122.43 269.67 L123.23 274.40 L124.03 279.01 L124.83 283.49 L125.63 287.84 L126.43 292.08 L127.23 296.19 L128.03 300.20 L128.83 304.08 L129.63 307.86 L130.43 311.53 L131.23 315.09 L132.03 318.55 L132.83 321.90 L133.63 325.16 L134.43 328.32 L135.23 331.38 L136.03 334.34 L136.83 337.22 L137.63 340.00 L138.43 342.70 L139.23 345.30 L140.03 347.83 L140.83 350.26 L141.63 352.62 L142.43 354.89 L143.23 357.09 L144.03 359.20 L144.83 361.24 L145.63 363.20 L146.43 365.09 L147.23 366.90 L148.03 368.64 L148.83 370.32 L149.63 371.92 L150.43 373.45 L151.23 374.91 L152.04 376.31 L152.84 377.64 L153.64 378.90 L154.44 380.10 L155.24 381.23 L156.04 382.31 L156.84 383.32 L157.64 384.27 L158.44 385.15 L159.24 385.98 L160.04 386.75 L160.84 387.46 L161.64 388.11 L162.44 388.70 L163.24 389.23 L164.04 389.71 L164.84 390.13 L165.64 390.50 L166.44 390.80 L167.24 391.06 L168.04 391.26 L168.84 391.40 L169.64 391.49 L170.44 391.53 L171.24 391.51 L172.04 391.44 L172.84 391.32 L173.64 391.14 L174.44 390.91 L175.24 390.63 L176.04 390.30 L176.84 389.92 L177.64 389.48 L178.44 389.00 L179.24 388.46 L180.04 387.87 L180.84 387.24 L181.65 386.55 L182.45 385.82 L183.25 385.03 L184.05 384.20 L184.85 383.32 L185.65 382.39 L186.45 381.41 L187.25 380.39 L188.05 379.32 L188.85 378.21 L189.65 377.05 L190.45 375.85 L191.25 374.61 L192.05 373.32 L192.85 371.99 L193.65 370.62 L194.45 369.21 L195.25 367.77 L196.05 366.28 L196.85 364.76 L197.65 363.21 L198.45 361.63 L199.25 360.01 L200.05 358.37 L200.85 356.69 L201.65 355.00 L202.45 353.28 L203.25 351.54 L204.05 349.78 L204.85 348.00 L205.65 346.21 L206.45 344.41 L207.25 342.61 L208.05 340.80 L208.85 338.99 L209.65 337.18 L210.45 335.37 L211.26 333.58 L212.06 331.80 L212.86 330.03 L213.66 328.28 L214.46 326.56 L215.26 324.87 L216.06 323.21 L216.86 321.58 L217.66 320.00 L218.46 318.46 L219.26 316.97 L220.06 315.53 L220.86 314.15 L221.66 312.84 L222.46 311.58 L223.26 310.40 L224.06 309.29 L224.86 308.25 L225.66 307.30 L226.46 306.43 L227.26 305.65 L228.06 304.95 L228.86 304.35 L229.66 303.84 L230.46 303.43 L231.26 303.11 L232.06 302.90 L232.86 302.79 L233.66 302.78 L234.46 302.87 L235.26 303.06 L236.06 303.36 L236.86 303.76 L237.66 304.26 L238.46 304.86 L239.26 305.56 L240.06 306.36 L240.86 307.26 L241.67 308.24 L242.47 309.32 L243.27 310.49 L244.07 311.74 L244.87 313.07 L245.67 314.48 L246.47 315.97 L247.27 317.53 L248.07 319.15 L248.87 320.84 L249.67 322.59 L250.47 324.40 L251.27 326.26 L252.07 328.17 L252.87 330.12 L253.67 332.11 L254.47 334.14 L255.27 336.20 L256.07 338.29 L256.87 340.41 L257.67 342.55 L258.47 344.70 L259.27 346.87 L260.07 349.05 L260.87 351.24 L261.67 353.43 L262.47 355.63 L263.27 357.83 L264.07 360.02 L264.87 362.20 L265.67 364.38 L266.47 366.55 L267.27 368.70 L268.07 370.84 L268.87 372.97 L269.67 375.08 L270.47 377.16 L271.28 379.23 L272.08 381.27 L272.88 383.29 L273.68 385.29 L274.48 387.25 L275.28 389.20 L276.08 391.11 L276.88 393.00 L277.68 394.86 L278.48 396.69 L279.28 398.49 L280.08 400.26 L280.88 402.00 L281.68 403.71 L282.48 405.38 L283.28 407.03 L284.08 408.65 L284.88 410.23 L285.68 411.79 L286.48 413.31 L287.28 414.81 L288.08 416.27 L288.88 417.70 L289.68 419.11 L290.48 420.48 L291.28 421.83 L292.08 423.14 L292.88 424.43 L293.68 425.69 L294.48 426.92 L295.28 428.13 L296.08 429.30 L296.88 430.46 L297.68 431.58 L298.48 432.68 L299.28 433.76 L300.08 434.81 L300.89 435.84 L301.69 436.84 L302.49 437.83 L303.29 438.79 L304.09 439.72 L304.89 440.64 L305.69 441.54 L306.49 442.42 L307.29 443.28 L308.09 444.12 L308.89 444.94 L309.69 445.74 L310.49 446.53 L311.29 447.30 L312.09 448.06 L312.89 448.80 L313.69 449.52 L314.49 450.23 L315.29 450.93 L316.09 451.61 L316.89 452.28 L317.69 452.94 L318.49 453.58 L319.29 454.21 L320.09 454.84 L320.89 455.45 L321.69 456.05 L322.49 456.64 L323.29 457.22 L324.09 457.79 L324.89 458.35 L325.69 458.90 L326.49 459.44 L327.29 459.97 L328.09 460.50 L328.89 461.01 L329.69 461.52 L330.49 462.02 L331.30 462.52 L332.10 463.00 L332.90 463.48 L333.70 463.95 L334.50 464.41 L335.30 464.87 L336.10 465.32 L336.90 465.76 L337.70 466.19 L338.50 466.62 L339.30 467.04 L340.10 467.46 L340.90 467.86 L341.70 468.26 L342.50 468.66 L343.30 469.05 L344.10 469.43 L344.90 469.80 L345.70 470.17"/>
<path d="M115.22 223.60 L116.02 229.70 L116.82 235.65 L117.62 241.45 L118.42 247.10 L119.22 252.60 L120.02 257.96 L120.82 263.18 L121.63 268.27 L122.43 273.22 L123.23 278.05 L124.03 282.74 L124.83 287.31 L125.63 291.76 L126.43 296.10 L127.23 300.31 L128.03 304.42 L128.83 308.41 L129.63 312.29 L130.43 316.07 L131.23 319.75 L132.03 323.32 L132.83 326.80 L133.63 330.17 L134.43 333.45 L135.23 336.64 L136.03 339.74 L136.83 342.75 L137.63 345.67 L138.43 348.51 L139.23 351.26 L140.03 353.93 L140.83 356.52 L141.63 359.03 L142.43 361.46 L143.23 363.82 L144.03 366.10 L144.83 368.31 L145.63 370.44 L146.43 372.51 L147.23 374.51 L148.03 376.44 L148.83 378.30 L149.63 380.10 L150.43 381.83 L151.23 383.50 L152.04 385.11 L152.84 386.66 L153.64 388.14 L154.44 389.57 L155.24 390.94 L156.04 392.25 L156.84 393.50 L157.64 394.70 L158.44 395.85 L159.24 396.93 L160.04 397.97 L160.84 398.95 L161.64 399.88 L162.44 400.76 L163.24 401.59 L164.04 402.37 L164.84 403.10 L165.64 403.78 L166.44 404.41 L167.24 404.99 L168.04 405.53 L168.84 406.02 L169.64 406.46 L170.44 406.86 L171.24 407.21 L172.04 407.52 L172.84 407.78 L173.64 408.00 L174.44 408.17 L175.24 408.30 L176.04 408.39 L176.84 408.43 L177.64 408.43 L178.44 408.39 L179.24 408.31 L180.04 408.19 L180.84 408.03 L181.65 407.82 L182.45 407.58 L183.25 407.30 L184.05 406.98 L184.85 406.62 L185.65 406.22 L186.45 405.78 L187.25 405.31 L188.05 404.80 L188.85 404.26 L189.65 403.68 L190.45 403.06 L191.25 402.42 L192.05 401.73 L192.85 401.02 L193.65 400.28 L194.45 399.50 L195.25 398.69 L196.05 397.86 L196.85 397.00 L197.65 396.11 L198.45 395.19 L199.25 394.26 L200.05 393.30 L200.85 392.31 L201.65 391.31 L202.45 390.29 L203.25 389.26 L204.05 388.20 L204.85 387.14 L205.65 386.07 L206.45 384.98 L207.25 383.89 L208.05 382.79 L208.85 381.69 L209.65 380.60 L210.45 379.50 L211.26 378.41 L212.06 377.32 L212.86 376.25 L213.66 375.19 L214.46 374.14 L215.26 373.11 L216.06 372.10 L216.86 371.12 L217.66 370.16 L218.46 369.23 L219.26 368.34 L220.06 367.48 L220.86 366.66 L221.66 365.88 L222.46 365.14 L223.26 364.45 L224.06 363.81 L224.86 363.21 L225.66 362.68 L226.46 362.19 L227.26 361.77 L228.06 361.40 L228.86 361.10 L229.66 360.86 L230.46 360.68 L231.26 360.56 L232.06 360.52 L232.86 360.54 L233.66 360.63 L234.46 360.78 L235.26 361.00 L236.06 361.29 L236.86 361.65 L237.66 362.07 L238.46 362.56 L239.26 363.11 L240.06 363.73 L240.86 364.41 L241.67 365.15 L242.47 365.94 L243.27 366.80 L244.07 367.71 L244.87 368.67 L245.67 369.68 L246.47 370.74 L247.27 371.84 L248.07 372.99 L248.87 374.18 L249.67 375.40 L250.47 376.67 L251.27 377.96 L252.07 379.28 L252.87 380.63 L253.67 382.01 L254.47 383.40 L255.27 384.82 L256.07 386.25 L256.87 387.70 L257.67 389.15 L258.47 390.62 L259.27 392.10 L260.07 393.58 L260.87 395.06 L261.67 396.55 L262.47 398.03 L263.27 399.51 L264.07 400.99 L264.87 402.46 L265.67 403.93 L266.47 405.38 L267.27 406.83 L268.07 408.26 L268.87 409.69 L269.67 411.09 L270.47 412.49 L271.28 413.87 L272.08 415.23 L272.88 416.57 L273.68 417.90 L274.48 419.21 L275.28 420.50 L276.08 421.77 L276.88 423.02 L277.68 424.25 L278.48 425.46 L279.28 426.64 L280.08 427.81 L280.88 428.96 L281.68 430.08 L282.48 431.19 L283.28 432.27 L284.08 433.33 L284.88 434.37 L285.68 435.39 L286.48 436.39 L287.28 437.37 L288.08 438.32 L288.88 439.26 L289.68 440.17 L290.48 441.07 L291.28 441.94 L292.08 442.80 L292.88 443.64 L293.68 444.45 L294.48 445.25 L295.28 446.03 L296.08 446.80 L296.88 447.54 L297.68 448.27 L298.48 448.98 L299.28 449.67 L300.08 450.35 L300.89 451.02 L301.69 451.66 L302.49 452.30 L303.29 452.92 L304.09 453.52 L304.89 454.11 L305.69 454.69 L306.49 455.26 L307.29 455.81 L308.09 456.35 L308.89 456.88 L309.69 457.40 L310.49 457.91 L311.29 458.41 L312.09 458.90 L312.89 459.38 L313.69 459.85 L314.49 460.31 L315.29 460.77 L316.09 461.21 L316.89 461.65 L317.69 462.09 L318.49 462.51 L319.29 462.93 L320.09 463.34 L320.89 463.75 L321.69 464.15 L322.49 464.54 L323.29 464.93 L324.09 465.31 L324.89 465.69 L325.69 466.07 L326.49 466.43 L327.29 466.80 L328.09 467.16 L328.89 467.51 L329.69 467.87 L330.49 468.21 L331.30 468.56 L332.10 468.89 L332.90 469.23 L333.70 469.56 L334.50 469.89 L335.30 470.21 L336.10 470.53 L336.90 470.84 L337.70 471.16 L338.50 471.46 L339.30 471.77 L340.10 472.07 L340.90 472.36 L341.70 472.65 L342.50 472.94 L343.30 473.23 L344.10 473.50 L344.90 473.78 L345.70 474.05"/>
<path class="d" d="M115.22 224.03 L116.02 230.15 L116.82 236.11 L117.62 241.92 L118.42 247.58 L119.22 253.09 L120.02 258.46 L120.82 263.70 L121.63 268.79 L122.43 273.76 L123.23 278.60 L124.03 283.31 L124.83 287.89 L125.63 292.36 L126.43 296.71 L127.23 300.94 L128.03 305.06 L128.83 309.06 L129.63 312.97 L130.43 316.76 L131.23 320.45 L132.03 324.04 L132.83 327.54 L133.63 330.93 L134.43 334.23 L135.23 337.44 L136.03 340.56 L136.83 343.59 L137.63 346.53 L138.43 349.38 L139.23 352.16 L140.03 354.85 L140.83 357.46 L141.63 359.99 L142.43 362.45 L143.23 364.83 L144.03 367.14 L144.83 369.37 L145.63 371.54 L146.43 373.63 L147.23 375.66 L148.03 377.61 L148.83 379.51 L149.63 381.33 L150.43 383.10 L151.23 384.80 L152.04 386.44 L152.84 388.02 L153.64 389.53 L154.44 391.00 L155.24 392.40 L156.04 393.75 L156.84 395.04 L157.64 396.27 L158.44 397.45 L159.24 398.58 L160.04 399.66 L160.84 400.68 L161.64 401.65 L162.44 402.58 L163.24 403.45 L164.04 404.27 L164.84 405.04 L165.64 405.77 L166.44 406.45 L167.24 407.08 L168.04 407.67 L168.84 408.21 L169.64 408.70 L170.44 409.15 L171.24 409.55 L172.04 409.91 L172.84 410.23 L173.64 410.50 L174.44 410.73 L175.24 410.92 L176.04 411.07 L176.84 411.18 L177.64 411.24 L178.44 411.26 L179.24 411.25 L180.04 411.19 L180.84 411.09 L181.65 410.95 L182.45 410.78 L183.25 410.57 L184.05 410.32 L184.85 410.03 L185.65 409.70 L186.45 409.34 L187.25 408.94 L188.05 408.50 L188.85 408.04 L189.65 407.53 L190.45 406.99 L191.25 406.42 L192.05 405.82 L192.85 405.18 L193.65 404.52 L194.45 403.82 L195.25 403.09 L196.05 402.34 L196.85 401.55 L197.65 400.74 L198.45 399.91 L199.25 399.05 L200.05 398.16 L200.85 397.26 L201.65 396.33 L202.45 395.39 L203.25 394.43 L204.05 393.45 L204.85 392.46 L205.65 391.45 L206.45 390.44 L207.25 389.41 L208.05 388.38 L208.85 387.34 L209.65 386.30 L210.45 385.27 L211.26 384.23 L212.06 383.20 L212.86 382.17 L213.66 381.15 L214.46 380.15 L215.26 379.16 L216.06 378.18 L216.86 377.23 L217.66 376.30 L218.46 375.39 L219.26 374.51 L220.06 373.67 L220.86 372.85 L221.66 372.08 L222.46 371.34 L223.26 370.64 L224.06 369.99 L224.86 369.38 L225.66 368.82 L226.46 368.31 L227.26 367.86 L228.06 367.46 L228.86 367.11 L229.66 366.83 L230.46 366.60 L231.26 366.43 L232.06 366.33 L232.86 366.29 L233.66 366.31 L234.46 366.40 L235.26 366.55 L236.06 366.76 L236.86 367.04 L237.66 367.39 L238.46 367.79 L239.26 368.26 L240.06 368.79 L240.86 369.38 L241.67 370.03 L242.47 370.73 L243.27 371.49 L244.07 372.31 L244.87 373.18 L245.67 374.09 L246.47 375.06 L247.27 376.07 L248.07 377.12 L248.87 378.22 L249.67 379.35 L250.47 380.52 L251.27 381.72 L252.07 382.95 L252.87 384.21 L253.67 385.49 L254.47 386.80 L255.27 388.13 L256.07 389.48 L256.87 390.84 L257.67 392.22 L258.47 393.61 L259.27 395.01 L260.07 396.41 L260.87 397.82 L261.67 399.23 L262.47 400.65 L263.27 402.06 L264.07 403.47 L264.87 404.88 L265.67 406.28 L266.47 407.67 L267.27 409.05 L268.07 410.43 L268.87 411.79 L269.67 413.14 L270.47 414.48 L271.28 415.81 L272.08 417.12 L272.88 418.41 L273.68 419.69 L274.48 420.95 L275.28 422.19 L276.08 423.42 L276.88 424.62 L277.68 425.81 L278.48 426.98 L279.28 428.13 L280.08 429.26 L280.88 430.37 L281.68 431.45 L282.48 432.52 L283.28 433.57 L284.08 434.60 L284.88 435.61 L285.68 436.59 L286.48 437.56 L287.28 438.51 L288.08 439.43 L288.88 440.34 L289.68 441.23 L290.48 442.10 L291.28 442.95 L292.08 443.78 L292.88 444.59 L293.68 445.38 L294.48 446.16 L295.28 446.91 L296.08 447.65 L296.88 448.38 L297.68 449.08 L298.48 449.77 L299.28 450.45 L300.08 451.11 L300.89 451.75 L301.69 452.38 L302.49 453.00 L303.29 453.60 L304.09 454.19 L304.89 454.76 L305.69 455.32 L306.49 455.87 L307.29 456.41 L308.09 456.94 L308.89 457.45 L309.69 457.96 L310.49 458.46 L311.29 458.94 L312.09 459.42 L312.89 459.88 L313.69 460.34 L314.49 460.79 L315.29 461.24 L316.09 461.67 L316.89 462.10 L317.69 462.52 L318.49 462.93 L319.29 463.34 L320.09 463.74 L320.89 464.14 L321.69 464.53 L322.49 464.91 L323.29 465.29 L324.09 465.67 L324.89 466.04 L325.69 466.40 L326.49 466.76 L327.29 467.12 L328.09 467.47 L328.89 467.82 L329.69 468.16 L330.49 468.50 L331.30 468.84 L332.10 469.17 L332.90 469.50 L333.70 469.82 L334.50 470.15 L335.30 470.46 L336.10 470.78 L336.90 471.08 L337.70 471.39 L338.50 471.69 L339.30 471.99 L340.10 472.28 L340.90 472.57 L341.70 472.86 L342.50 473.14 L343.30 473.42 L344.10 473.70 L344.90 473.97 L345.70 474.23"/>
<path d="M115.22 226.81 L116.02 232.99 L116.82 239.02 L117.62 244.90 L118.42 250.64 L119.22 256.23 L120.02 261.68 L120.82 266.99 L121.63 272.17 L122.43 277.22 L123.23 282.15 L124.03 286.95 L124.83 291.62 L125.63 296.18 L126.43 300.62 L127.23 304.95 L128.03 309.17 L128.83 313.28 L129.63 317.29 L130.43 321.19 L131.23 324.99 L132.03 328.70 L132.83 332.30 L133.63 335.82 L134.43 339.24 L135.23 342.57 L136.03 345.82 L136.83 348.98 L137.63 352.05 L138.43 355.05 L139.23 357.96 L140.03 360.80 L140.83 363.56 L141.63 366.24 L142.43 368.85 L143.23 371.39 L144.03 373.86 L144.83 376.26 L145.63 378.60 L146.43 380.86 L147.23 383.07 L148.03 385.21 L148.83 387.29 L149.63 389.31 L150.43 391.27 L151.23 393.17 L152.04 395.02 L152.84 396.81 L153.64 398.54 L154.44 400.23 L155.24 401.86 L156.04 403.44 L156.84 404.96 L157.64 406.44 L158.44 407.88 L159.24 409.26 L160.04 410.60 L160.84 411.89 L161.64 413.13 L162.44 414.34 L163.24 415.49 L164.04 416.61 L164.84 417.68 L165.64 418.72 L166.44 419.71 L167.24 420.66 L168.04 421.58 L168.84 422.45 L169.64 423.29 L170.44 424.09 L171.24 424.85 L172.04 425.58 L172.84 426.27 L173.64 426.93 L174.44 427.55 L175.24 428.14 L176.04 428.70 L176.84 429.22 L177.64 429.71 L178.44 430.17 L179.24 430.59 L180.04 430.99 L180.84 431.35 L181.65 431.69 L182.45 431.99 L183.25 432.27 L184.05 432.52 L184.85 432.73 L185.65 432.93 L186.45 433.09 L187.25 433.23 L188.05 433.34 L188.85 433.42 L189.65 433.48 L190.45 433.52 L191.25 433.53 L192.05 433.51 L192.85 433.48 L193.65 433.42 L194.45 433.34 L195.25 433.23 L196.05 433.11 L196.85 432.97 L197.65 432.81 L198.45 432.62 L199.25 432.42 L200.05 432.21 L200.85 431.98 L201.65 431.73 L202.45 431.47 L203.25 431.19 L204.05 430.90 L204.85 430.60 L205.65 430.29 L206.45 429.97 L207.25 429.64 L208.05 429.31 L208.85 428.96 L209.65 428.62 L210.45 428.27 L211.26 427.92 L212.06 427.56 L212.86 427.21 L213.66 426.86 L214.46 426.51 L215.26 426.17 L216.06 425.83 L216.86 425.50 L217.66 425.18 L218.46 424.87 L219.26 424.57 L220.06 424.29 L220.86 424.02 L221.66 423.77 L222.46 423.53 L223.26 423.31 L224.06 423.12 L224.86 422.94 L225.66 422.79 L226.46 422.66 L227.26 422.55 L228.06 422.47 L228.86 422.42 L229.66 422.39 L230.46 422.39 L231.26 422.42 L232.06 422.48 L232.86 422.57 L233.66 422.69 L234.46 422.84 L235.26 423.02 L236.06 423.23 L236.86 423.46 L237.66 423.73 L238.46 424.03 L239.26 424.35 L240.06 424.70 L240.86 425.08 L241.67 425.49 L242.47 425.92 L243.27 426.38 L244.07 426.87 L244.87 427.37 L245.67 427.90 L246.47 428.45 L247.27 429.02 L248.07 429.60 L248.87 430.21 L249.67 430.83 L250.47 431.47 L251.27 432.12 L252.07 432.78 L252.87 433.45 L253.67 434.14 L254.47 434.83 L255.27 435.53 L256.07 436.23 L256.87 436.95 L257.67 437.66 L258.47 438.38 L259.27 439.10 L260.07 439.83 L260.87 440.55 L261.67 441.27 L262.47 441.99 L263.27 442.71 L264.07 443.42 L264.87 444.13 L265.67 444.84 L266.47 445.54 L267.27 446.23 L268.07 446.91 L268.87 447.59 L269.67 448.27 L270.47 448.93 L271.28 449.58 L272.08 450.23 L272.88 450.87 L273.68 451.49 L274.48 452.11 L275.28 452.71 L276.08 453.31 L276.88 453.90 L277.68 454.47 L278.48 455.03 L279.28 455.59 L280.08 456.13 L280.88 456.66 L281.68 457.18 L282.48 457.69 L283.28 458.19 L284.08 458.67 L284.88 459.15 L285.68 459.61 L286.48 460.06 L287.28 460.51 L288.08 460.94 L288.88 461.36 L289.68 461.77 L290.48 462.17 L291.28 462.56 L292.08 462.95 L292.88 463.32 L293.68 463.68 L294.48 464.03 L295.28 464.38 L296.08 464.71 L296.88 465.04 L297.68 465.36 L298.48 465.67 L299.28 465.97 L300.08 466.27 L300.89 466.55 L301.69 466.84 L302.49 467.11 L303.29 467.38 L304.09 467.64 L304.89 467.90 L305.69 468.15 L306.49 468.39 L307.29 468.63 L308.09 468.87 L308.89 469.10 L309.69 469.33 L310.49 469.55 L311.29 469.78 L312.09 469.99 L312.89 470.21 L313.69 470.42 L314.49 470.63 L315.29 470.83 L316.09 471.04 L316.89 471.24 L317.69 471.44 L318.49 471.64 L319.29 471.84 L320.09 472.04 L320.89 472.23 L321.69 472.43 L322.49 472.62 L323.29 472.82 L324.09 473.01 L324.89 473.20 L325.69 473.39 L326.49 473.59 L327.29 473.78 L328.09 473.97 L328.89 474.16 L329.69 474.35 L330.49 474.54 L331.30 474.73 L332.10 474.92 L332.90 475.11 L333.70 475.30 L334.50 475.48 L335.30 475.67 L336.10 475.86 L336.90 476.04 L337.70 476.23 L338.50 476.41 L339.30 476.60 L340.10 476.78 L340.90 476.96 L341.70 477.14 L342.50 477.32 L343.30 477.50 L344.10 477.67 L344.90 477.85 L345.70 478.02"/>
<path class="d" d="M115.22 227.23 L116.02 233.42 L116.82 239.47 L117.62 245.36 L118.42 251.10 L119.22 256.71 L120.02 262.17 L120.82 267.49 L121.63 272.69 L122.43 277.75 L123.23 282.68 L124.03 287.50 L124.83 292.19 L125.63 296.76 L126.43 301.22 L127.23 305.56 L128.03 309.79 L128.83 313.92 L129.63 317.94 L130.43 321.86 L131.23 325.68 L132.03 329.40 L132.83 333.03 L133.63 336.56 L134.43 340.00 L135.23 343.35 L136.03 346.61 L136.83 349.79 L137.63 352.89 L138.43 355.90 L139.23 358.84 L140.03 361.70 L140.83 364.48 L141.63 367.18 L142.43 369.82 L143.23 372.38 L144.03 374.88 L144.83 377.30 L145.63 379.66 L146.43 381.96 L147.23 384.19 L148.03 386.36 L148.83 388.46 L149.63 390.51 L150.43 392.50 L151.23 394.43 L152.04 396.31 L152.84 398.13 L153.64 399.90 L154.44 401.62 L155.24 403.28 L156.04 404.90 L156.84 406.46 L157.64 407.98 L158.44 409.44 L159.24 410.87 L160.04 412.24 L160.84 413.57 L161.64 414.86 L162.44 416.10 L163.24 417.30 L164.04 418.46 L164.84 419.58 L165.64 420.66 L166.44 421.70 L167.24 422.70 L168.04 423.66 L168.84 424.58 L169.64 425.47 L170.44 426.32 L171.24 427.14 L172.04 427.92 L172.84 428.67 L173.64 429.38 L174.44 430.06 L175.24 430.70 L176.04 431.32 L176.84 431.90 L177.64 432.45 L178.44 432.97 L179.24 433.46 L180.04 433.92 L180.84 434.34 L181.65 434.75 L182.45 435.12 L183.25 435.46 L184.05 435.78 L184.85 436.06 L185.65 436.33 L186.45 436.56 L187.25 436.77 L188.05 436.95 L188.85 437.11 L189.65 437.25 L190.45 437.36 L191.25 437.44 L192.05 437.51 L192.85 437.55 L193.65 437.56 L194.45 437.56 L195.25 437.54 L196.05 437.49 L196.85 437.43 L197.65 437.34 L198.45 437.24 L199.25 437.12 L200.05 436.98 L200.85 436.82 L201.65 436.65 L202.45 436.46 L203.25 436.26 L204.05 436.04 L204.85 435.82 L205.65 435.57 L206.45 435.32 L207.25 435.06 L208.05 434.79 L208.85 434.51 L209.65 434.23 L210.45 433.93 L211.26 433.64 L212.06 433.34 L212.86 433.03 L213.66 432.73 L214.46 432.42 L215.26 432.12 L216.06 431.82 L216.86 431.52 L217.66 431.23 L218.46 430.94 L219.26 430.67 L220.06 430.40 L220.86 430.14 L221.66 429.89 L222.46 429.66 L223.26 429.43 L224.06 429.23 L224.86 429.04 L225.66 428.87 L226.46 428.72 L227.26 428.58 L228.06 428.47 L228.86 428.38 L229.66 428.32 L230.46 428.27 L231.26 428.25 L232.06 428.26 L232.86 428.29 L233.66 428.34 L234.46 428.43 L235.26 428.54 L236.06 428.67 L236.86 428.83 L237.66 429.02 L238.46 429.24 L239.26 429.48 L240.06 429.75 L240.86 430.04 L241.67 430.36 L242.47 430.70 L243.27 431.07 L244.07 431.46 L244.87 431.87 L245.67 432.31 L246.47 432.76 L247.27 433.24 L248.07 433.73 L248.87 434.25 L249.67 434.77 L250.47 435.32 L251.27 435.88 L252.07 436.45 L252.87 437.03 L253.67 437.63 L254.47 438.24 L255.27 438.85 L256.07 439.47 L256.87 440.10 L257.67 440.74 L258.47 441.38 L259.27 442.02 L260.07 442.67 L260.87 443.31 L261.67 443.96 L262.47 444.61 L263.27 445.26 L264.07 445.91 L264.87 446.55 L265.67 447.19 L266.47 447.83 L267.27 448.46 L268.07 449.08 L268.87 449.71 L269.67 450.32 L270.47 450.93 L271.28 451.53 L272.08 452.12 L272.88 452.71 L273.68 453.29 L274.48 453.86 L275.28 454.42 L276.08 454.97 L276.88 455.51 L277.68 456.04 L278.48 456.56 L279.28 457.07 L280.08 457.58 L280.88 458.07 L281.68 458.55 L282.48 459.03 L283.28 459.49 L284.08 459.94 L284.88 460.38 L285.68 460.81 L286.48 461.24 L287.28 461.65 L288.08 462.05 L288.88 462.45 L289.68 462.83 L290.48 463.20 L291.28 463.57 L292.08 463.92 L292.88 464.27 L293.68 464.61 L294.48 464.94 L295.28 465.26 L296.08 465.57 L296.88 465.88 L297.68 466.17 L298.48 466.46 L299.28 466.75 L300.08 467.02 L300.89 467.29 L301.69 467.55 L302.49 467.81 L303.29 468.06 L304.09 468.31 L304.89 468.55 L305.69 468.78 L306.49 469.01 L307.29 469.24 L308.09 469.46 L308.89 469.68 L309.69 469.89 L310.49 470.10 L311.29 470.31 L312.09 470.51 L312.89 470.71 L313.69 470.91 L314.49 471.11 L315.29 471.30 L316.09 471.50 L316.89 471.69 L317.69 471.88 L318.49 472.07 L319.29 472.25 L320.09 472.44 L320.89 472.63 L321.69 472.81 L322.49 473.00 L323.29 473.18 L324.09 473.37 L324.89 473.55 L325.69 473.73 L326.49 473.92 L327.29 474.10 L328.09 474.28 L328.89 474.47 L329.69 474.65 L330.49 474.83 L331.30 475.02 L332.10 475.20 L332.90 475.38 L333.70 475.56 L334.50 475.74 L335.30 475.92 L336.10 476.10 L336.90 476.28 L337.70 476.46 L338.50 476.64 L339.30 476.82 L340.10 477.00 L340.90 477.17 L341.70 477.35 L342.50 477.52 L343.30 477.69 L344.10 477.87 L344.90 478.04 L345.70 478.20"/>
</g>
<g class="f">
<rect x="46.6" y="20.0" width="299.10" height="466.90"/>
<line x1="46.6" y1="252.10000000000002" x2="345.7" y2="252.10000000000002" stroke-width="1.8"/>
<path class="k" d="M69.11 486.9 V484.50 M69.11 251.8 V254.20 M82.28 486.9 V484.50 M82.28 251.8 V254.20 M91.62 486.9 V484.50 M91.62 251.8 V254.20 M98.87 486.9 V484.50 M98.87 251.8 V254.20 M104.79 486.9 V484.50 M104.79 251.8 V254.20 M109.79 486.9 V484.50 M109.79 251.8 V254.20 M114.13 486.9 V484.50 M114.13 251.8 V254.20 M117.95 486.9 V484.50 M117.95 251.8 V254.20 M121.38 486.9 V482.30 M121.38 251.8 V256.40 M143.88 486.9 V484.50 M143.88 251.8 V254.20 M157.05 486.9 V484.50 M157.05 251.8 V254.20 M166.39 486.9 V484.50 M166.39 251.8 V254.20 M173.64 486.9 V484.50 M173.64 251.8 V254.20 M179.56 486.9 V484.50 M179.56 251.8 V254.20 M184.57 486.9 V484.50 M184.57 251.8 V254.20 M188.90 486.9 V484.50 M188.90 251.8 V254.20 M192.73 486.9 V484.50 M192.73 251.8 V254.20 M196.15 486.9 V482.30 M196.15 251.8 V256.40 M218.66 486.9 V484.50 M218.66 251.8 V254.20 M231.83 486.9 V484.50 M231.83 251.8 V254.20 M241.17 486.9 V484.50 M241.17 251.8 V254.20 M248.42 486.9 V484.50 M248.42 251.8 V254.20 M254.34 486.9 V484.50 M254.34 251.8 V254.20 M259.34 486.9 V484.50 M259.34 251.8 V254.20 M263.68 486.9 V484.50 M263.68 251.8 V254.20 M267.50 486.9 V484.50 M267.50 251.8 V254.20 M270.93 486.9 V482.30 M270.93 251.8 V256.40 M293.43 486.9 V484.50 M293.43 251.8 V254.20 M306.60 486.9 V484.50 M306.60 251.8 V254.20 M315.94 486.9 V484.50 M315.94 251.8 V254.20 M323.19 486.9 V484.50 M323.19 251.8 V254.20 M329.11 486.9 V484.50 M329.11 251.8 V254.20 M334.12 486.9 V484.50 M334.12 251.8 V254.20 M338.45 486.9 V484.50 M338.45 251.8 V254.20 M342.28 486.9 V484.50 M342.28 251.8 V254.20"/>
<path class="k" d="M46.6 106.70 H51.50 M345.7 106.70 H340.80 M46.6 393.26 H51.50 M345.7 393.26 H340.80 M46.6 299.22 H51.50 M345.7 299.22 H340.80"/>
</g>
<g class="t">
<text x="48.65" y="506.9" text-anchor="middle" class="x">0.1</text>
<text x="123.40" y="506.9" text-anchor="middle" class="x">1</text>
<text x="198.90" y="506.9" text-anchor="middle" class="x">10</text>
<text x="273.70" y="506.9" text-anchor="middle" class="x">100</text>
<text x="348.80" y="506.9" text-anchor="middle" class="x">1000</text>
<text x="37.5" y="491.9" text-anchor="end" >0</text>
<text x="37.5" y="397.3" text-anchor="end" >4</text>
<text x="37.5" y="302.9" text-anchor="end" >8</text>
<text x="37.5" y="256.3" text-anchor="end" >0</text>
<text x="37.5" y="111.3" text-anchor="end" >1</text>
<text y="47"><tspan class="i" x="107.40" textLength="10.2" lengthAdjust="spacingAndGlyphs">L</tspan><tspan x="120.40" dy="1.3" textLength="12.7" lengthAdjust="spacingAndGlyphs">=</tspan><tspan x="136.30" dy="-1.3" class="n">15</tspan></text>
<text y="123.5"><tspan class="i" x="107.40" textLength="10.2" lengthAdjust="spacingAndGlyphs">L</tspan><tspan x="120.40" dy="1.3" textLength="12.7" lengthAdjust="spacingAndGlyphs">=</tspan><tspan x="136.30" dy="-1.3" class="n">10</tspan></text>
<text y="202.3"><tspan class="i" x="107.40" textLength="10.2" lengthAdjust="spacingAndGlyphs">L</tspan><tspan x="120.40" dy="1.3" textLength="12.7" lengthAdjust="spacingAndGlyphs">=</tspan><tspan x="136.30" dy="-1.3" class="n">5</tspan></text>
<text y="291.6"><tspan class="i" x="212.60" textLength="10.2" lengthAdjust="spacingAndGlyphs">L</tspan><tspan x="225.60" dy="1.3" textLength="12.7" lengthAdjust="spacingAndGlyphs">=</tspan><tspan x="242.00" dy="-1.3" class="n">15</tspan></text>
<text y="455.9"><tspan class="i" x="176.10" textLength="10.2" lengthAdjust="spacingAndGlyphs">L</tspan><tspan x="189.10" dy="1.3" textLength="12.7" lengthAdjust="spacingAndGlyphs">=</tspan><tspan x="205.50" dy="-1.3" class="n">5</tspan></text>
<text x="195.4" y="521.8" text-anchor="middle" class="i">ω</text>
<text transform="translate(20.15,158.7) rotate(-90)"><tspan x="-0.9" y="0">R</tspan><tspan x="10.05" y="0">e</tspan><tspan x="17.8" y="0.2" class="p">(</tspan><tspan x="24.6" y="0" class="i">Z</tspan><tspan x="35.8" y="0.2" class="p">)</tspan><tspan x="42.45" y="3.6" class="sl">/</tspan><tspan x="49.7" y="0">1</tspan><tspan x="57.4" y="0">0</tspan><tspan x="65.5" y="-5.1" class="s" textLength="8.5" lengthAdjust="spacingAndGlyphs">−</tspan><tspan x="75.15" y="-5.25" class="s">1</tspan></text>
<text transform="translate(20.15,394.5) rotate(-90)"><tspan x="0.4" y="0">-</tspan><tspan x="5.35" y="0">I</tspan><tspan x="10.9" y="0" textLength="11.9" lengthAdjust="spacingAndGlyphs">m</tspan><tspan x="24.8" y="0.2" class="p">(</tspan><tspan x="31.3" y="0" class="i">Z</tspan><tspan x="43.4" y="0.2" class="p">)</tspan><tspan x="49.15" y="3.6" class="sl">/</tspan><tspan x="56.8" y="0">1</tspan><tspan x="64.1" y="0">0</tspan><tspan x="72.2" y="-5.1" class="s" textLength="8.5" lengthAdjust="spacingAndGlyphs">−</tspan><tspan x="82.05" y="-5.25" class="s">2</tspan></text>
</g>
</svg>
</body></html>
